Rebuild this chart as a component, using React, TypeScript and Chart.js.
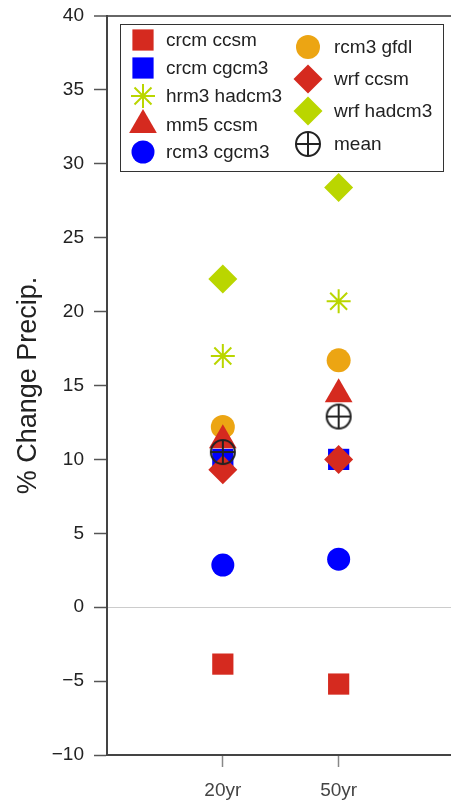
import React, { useEffect, useRef } from 'react';
import { Chart, registerables } from 'chart.js';
import { drawPoint } from 'chart.js/helpers';

Chart.register(...registerables);

const categories = ['20yr', '50yr'];
const categoryPositions = [1, 2];
const yTicks = [-10, -5, 0, 5, 10, 15, 20, 25, 30, 35, 40];

const crcmCcsm = [-3.85, -5.2];
const crcmCgcm3 = [10.0, 10.0];
const hrm3Hadcm3 = [17.0, 20.7];
const mm5Ccsm = [11.3, 14.4];
const rcm3Cgcm3 = [2.85, 3.25];
const rcm3Gfdl = [12.2, 16.7];
const wrfCcsm = [9.3, 10.0];
const wrfHadcm3 = [22.2, 28.4];
const meanValues = [10.5, 12.9];

const RED = '#d52a1f';
const BLUE = '#0000ff';
const LIME = '#bad600';
const ORANGE = '#eca513';
const DARK = '#222222';
const FONT = "'Liberation Sans', Arial, Helvetica, sans-serif";

function makeMeanIcon(): HTMLCanvasElement {
  const c = document.createElement('canvas');
  c.width = 28;
  c.height = 28;
  const g = c.getContext('2d')!;
  g.strokeStyle = DARK;
  g.lineWidth = 2;
  g.beginPath();
  g.arc(14, 14, 12, 0, Math.PI * 2);
  g.stroke();
  g.beginPath();
  g.moveTo(2, 14);
  g.lineTo(26, 14);
  g.moveTo(14, 2);
  g.lineTo(14, 26);
  g.stroke();
  return c;
}

type Series = {
  label: string;
  values: number[];
  color: string;
  style: any;
  radius: number;
  borderWidth: number;
  order: number;
};

export default function App() {
  const ref = useRef<HTMLCanvasElement>(null);

  useEffect(() => {
    if (!ref.current) return;
    const meanIcon = makeMeanIcon();

    const series: Series[] = [
      { label: 'crcm ccsm', values: crcmCcsm, color: RED, style: 'rect', radius: 15, borderWidth: 0, order: 3 },
      { label: 'crcm cgcm3', values: crcmCgcm3, color: BLUE, style: 'rect', radius: 15, borderWidth: 0, order: 6 },
      { label: 'hrm3 hadcm3', values: hrm3Hadcm3, color: LIME, style: 'star', radius: 12, borderWidth: 2, order: 3 },
      { label: 'mm5 ccsm', values: mm5Ccsm, color: RED, style: 'triangle', radius: 16, borderWidth: 0, order: 2 },
      { label: 'rcm3 cgcm3', values: rcm3Cgcm3, color: BLUE, style: 'circle', radius: 11.5, borderWidth: 0, order: 3 },
      { label: 'rcm3 gfdl', values: rcm3Gfdl, color: ORANGE, style: 'circle', radius: 12, borderWidth: 0, order: 4 },
      { label: 'wrf ccsm', values: wrfCcsm, color: RED, style: 'rectRot', radius: 14.5, borderWidth: 0, order: 1 },
      { label: 'wrf hadcm3', values: wrfHadcm3, color: LIME, style: 'rectRot', radius: 14.5, borderWidth: 0, order: 3 },
      { label: 'mean', values: meanValues, color: DARK, style: meanIcon, radius: 13, borderWidth: 0, order: 0 },
    ];

    const datasets = series.map((s) => ({
      label: s.label,
      data: s.values.map((v, i) => ({ x: categoryPositions[i], y: v })),
      pointStyle: s.style,
      pointRadius: s.radius,
      pointBackgroundColor: s.color,
      pointBorderColor: s.color,
      pointBorderWidth: s.borderWidth,
      backgroundColor: s.color,
      borderColor: s.color,
      showLine: false,
      order: s.order,
    }));

    const legendCols = [
      { x: 143, textX: 166, ys: [40, 68, 96, 125, 152], items: series.slice(0, 5) },
      { x: 308, textX: 334, ys: [47, 79, 111, 144], items: series.slice(5) },
    ];

    const boxLegend = {
      id: 'boxLegend',
      afterDatasetsDraw(chart: any) {
        const ctx = chart.ctx as CanvasRenderingContext2D;
        ctx.save();
        ctx.fillStyle = '#ffffff';
        ctx.fillRect(120, 24, 323, 147);
        ctx.strokeStyle = '#333333';
        ctx.lineWidth = 1;
        ctx.strokeRect(120.5, 24.5, 323, 147);
        ctx.font = `19px ${FONT}`;
        ctx.textBaseline = 'middle';
        ctx.textAlign = 'left';
        for (const col of legendCols) {
          col.items.forEach((s, i) => {
            const y = col.ys[i];
            ctx.save();
            ctx.fillStyle = s.color;
            ctx.strokeStyle = s.color;
            ctx.lineWidth = s.borderWidth || 1;
            drawPoint(ctx, { pointStyle: s.style, radius: s.radius, rotation: 0, borderWidth: s.borderWidth }, col.x, y);
            ctx.restore();
            ctx.fillStyle = DARK;
            ctx.fillText(s.label, col.textX, y + 1);
          });
        }
        ctx.restore();
      },
    };

    const chart = new Chart(ref.current, {
      type: 'scatter',
      data: { datasets },
      plugins: [boxLegend],
      options: {
        animation: false,
        responsive: false,
        layout: { padding: { top: 15, right: 0, left: 0, bottom: 0 } },
        plugins: { legend: { display: false }, tooltip: { enabled: false } },
        scales: {
          x: {
            type: 'linear',
            min: 0,
            max: 2.97,
            afterBuildTicks: (scale: any) => {
              scale.ticks = categoryPositions.map((v) => ({ value: v }));
            },
            afterFit: (scale: any) => {
              scale.height = 47;
              scale.paddingLeft = 0;
              scale.paddingRight = 0;
            },
            grid: {
              drawOnChartArea: false,
              tickColor: '#888888',
              tickLength: 12,
              tickWidth: 1.5,
            },
            border: { color: '#444444', width: 2 },
            ticks: {
              autoSkip: false,
              maxRotation: 0,
              padding: 12,
              color: '#444444',
              font: { family: FONT, size: 19 },
              callback: (v: any) => {
                const idx = categoryPositions.indexOf(Number(v));
                return idx >= 0 ? categories[idx] : '';
              },
            },
          },
          y: {
            type: 'linear',
            min: -10,
            max: 40,
            afterBuildTicks: (scale: any) => {
              scale.ticks = yTicks.map((v) => ({ value: v }));
            },
            afterFit: (scale: any) => {
              scale.width = 107;
              scale.paddingTop = 0;
              scale.paddingBottom = 0;
            },
            grid: {
              color: (ctx: any) => {
                const v = ctx.tick ? ctx.tick.value : null;
                if (v === 0) return '#cccccc';
                if (v === 40) return '#666666';
                return 'rgba(0,0,0,0)';
              },
              lineWidth: (ctx: any) => (ctx.tick && ctx.tick.value === 40 ? 2 : 1),
              tickColor: '#555555',
              tickLength: 13,
              tickWidth: 1.5,
            },
            border: { color: '#444444', width: 2 },
            ticks: {
              padding: 10,
              color: DARK,
              font: { family: FONT, size: 19 },
              callback: (v: any) => String(v).replace('-', '\u2212'),
            },
            title: {
              display: true,
              text: '% Change Precip.',
              color: DARK,
              font: { family: FONT, size: 27 },
              padding: { top: 12, bottom: 0 },
            },
          },
        },
      },
    });

    return () => chart.destroy();
  }, []);

  return (
    <div style={{ position: 'fixed', left: 0, top: 0, width: 451, height: 802, overflow: 'hidden', background: '#fff' }}>
      <canvas ref={ref} width={467} height={802} style={{ display: 'block' }} />
    </div>
  );
}
